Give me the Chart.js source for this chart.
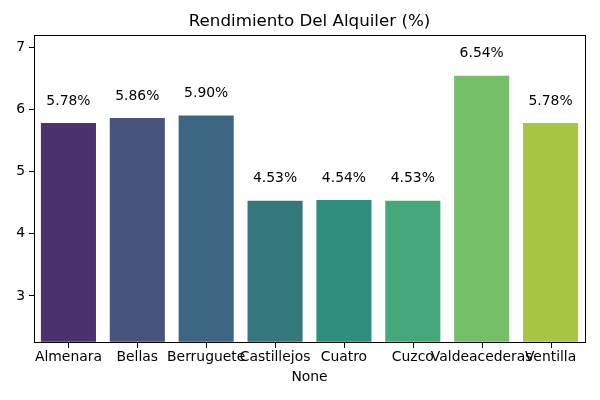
<!DOCTYPE html>
<html><head><meta charset="utf-8">
<script src="https://cdn.jsdelivr.net/npm/chart.js@4"></script>
<style>html,body{margin:0;padding:0;background:#fff}#wrap{width:600px;height:400px}</style>
</head><body><div id="wrap"><canvas id="c" width="600" height="400"></canvas></div>
<script>
const categories = ["Almenara","Bellas","Berruguete","Castillejos","Cuatro","Cuzco","Valdeacederas","Ventilla"];
const values = [5.78, 5.86, 5.90, 4.53, 4.54, 4.53, 6.54, 5.78];
const yTicks = [3,4,5,6,7];
const colors = ["#4a326e","#48537e","#3d6683","#35787b","#2e8f7f","#45a87b","#76bf69","#a8c644"];
const titleText = 'Rendimiento Del Alquiler (%)';

const FONT = "'DejaVu Sans', sans-serif";
const boxPlugin = {
  id: 'box',
  afterDraw(chart) {
    const {ctx, chartArea: a} = chart;
    const y = chart.scales.y, x = chart.scales.x;
    ctx.save();
    ctx.strokeStyle = '#000'; ctx.lineWidth = 1;
    ctx.strokeRect(Math.round(a.left)+0.5, Math.round(a.top)+0.5, Math.round(a.right-a.left), Math.round(a.bottom-a.top));
    // x tick marks at category centers
    ctx.fillStyle = '#000';
    for (let i = 0; i < categories.length; i++) {
      const px = Math.round(x.getPixelForTick(i));
      ctx.fillRect(px, Math.round(a.bottom), 1, 6);
    }
    // title centered on plot area
    ctx.font = "16.7px " + FONT;
    ctx.textAlign = 'center'; ctx.textBaseline = 'middle';
    ctx.fillText(titleText, (a.left + a.right) / 2, 21.5);
    // value labels
    ctx.font = "13.9px " + FONT;
    values.forEach((v, i) => {
      ctx.fillText(v.toFixed(2) + '%', x.getPixelForValue(i), y.getPixelForValue(v) - 22);
    });
    ctx.restore();
  }
};

new Chart(document.getElementById('c'), {
  type: 'bar',
  data: { labels: categories, datasets: [{ data: values, backgroundColor: colors, barPercentage: 0.8, categoryPercentage: 1.0 }] },
  options: {
    responsive: false, animation: false,
    layout: { padding: { left: 0, right: 15, top: 35, bottom: 14 } },
    plugins: {
      legend: { display: false }, tooltip: { enabled: false }, title: { display: false }
    },
    scales: {
      x: {
        grid: { display: true, drawOnChartArea: false, tickLength: 5, color: 'rgba(0,0,0,0)' },
        border: { display: false },
        ticks: { color: '#000', font: { family: FONT, size: 13.9 }, padding: 2, maxRotation: 0, autoSkip: false },
        title: { display: true, text: 'None', color: '#000', font: { family: FONT, size: 13.9 }, padding: { top: 2, bottom: 0 } }
      },
      y: {
        min: 2.265, max: 7.194,
        afterBuildTicks: s => { s.ticks = yTicks.map(v => ({ value: v })); },
        afterFit: s => { s.width = 34; },
        grid: { display: true, drawOnChartArea: false, tickLength: 5, color: '#000' },
        border: { display: false },
        ticks: { color: '#000', font: { family: FONT, size: 13.9 }, padding: 4 }
      }
    }
  },
  plugins: [boxPlugin]
});
</script></body></html>
